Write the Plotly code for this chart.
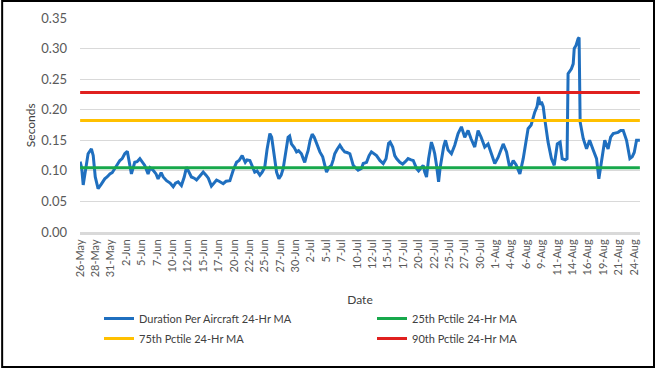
import datetime as dt
import plotly.graph_objects as go

# ---- data ----
start = dt.datetime(2018, 5, 26, 0, 0)

hours = [0, 6, 12, 20, 31, 44, 51, 59, 70, 82, 96, 105, 116, 125, 135, 144, 155, 164, 174, 184,
         191, 200, 213, 222, 233, 242, 252, 265, 273, 285, 296, 304, 316, 324, 337, 351, 363, 372, 382, 395,
         406, 415, 425, 434, 445, 454, 468, 480, 491, 500, 512, 523, 532, 542, 558, 569, 584, 597, 610, 620,
         632, 644, 651, 662, 671, 681, 690, 701, 710, 720, 729, 740, 747, 753, 761, 766, 775, 784, 792, 801,
         811, 817, 824, 835, 844, 852, 863, 870, 876, 883, 889, 897, 905, 913, 922, 928, 935, 946, 954, 961,
         969, 980, 987, 993, 1002, 1013, 1022, 1032, 1041, 1052, 1059, 1065, 1074, 1084, 1097, 1104, 1117, 1127, 1136, 1147,
         1156, 1169, 1182, 1193, 1203, 1209, 1219, 1227, 1234, 1247, 1258, 1268, 1279, 1291, 1299, 1312, 1320, 1330, 1338, 1344,
         1351, 1359, 1370, 1377, 1383, 1390, 1398, 1404, 1409, 1418, 1425, 1435, 1448, 1461, 1474, 1487, 1500, 1513, 1525, 1539,
         1552, 1564, 1578, 1591, 1604, 1617, 1630, 1644, 1650, 1663, 1676, 1689, 1700, 1715, 1728, 1747, 1759, 1773, 1782, 1788,
         1794, 1799, 1806, 1812, 1825, 1838, 1849, 1861, 1872, 1880, 1892, 1899, 1903, 1916, 1923, 1927, 1934, 1942, 1946, 1950,
         1962, 1975, 1987, 2001, 2014, 2023, 2032, 2046, 2059, 2069, 2079, 2098, 2108, 2118, 2131, 2144, 2153, 2161, 2170, 2183]

duration_ma = [0.115, 0.105, 0.077, 0.100, 0.128, 0.136, 0.125, 0.090, 0.071, 0.078, 0.087, 0.090, 0.095, 0.097, 0.104, 0.110, 0.117, 0.120, 0.128, 0.132,
               0.115, 0.095, 0.114, 0.115, 0.120, 0.115, 0.109, 0.095, 0.105, 0.101, 0.095, 0.087, 0.097, 0.090, 0.084, 0.080, 0.074, 0.080, 0.082, 0.076,
               0.090, 0.106, 0.098, 0.090, 0.088, 0.085, 0.092, 0.098, 0.093, 0.088, 0.075, 0.080, 0.085, 0.083, 0.079, 0.083, 0.084, 0.101, 0.114, 0.117,
               0.125, 0.114, 0.118, 0.117, 0.108, 0.098, 0.100, 0.093, 0.098, 0.106, 0.135, 0.161, 0.155, 0.139, 0.115, 0.098, 0.087, 0.093, 0.104, 0.130,
               0.155, 0.157, 0.144, 0.138, 0.131, 0.133, 0.128, 0.120, 0.114, 0.125, 0.133, 0.150, 0.160, 0.155, 0.144, 0.138, 0.131, 0.123, 0.110, 0.098,
               0.105, 0.109, 0.118, 0.128, 0.135, 0.142, 0.136, 0.131, 0.130, 0.128, 0.118, 0.109, 0.105, 0.101, 0.104, 0.112, 0.114, 0.125, 0.131, 0.128,
               0.125, 0.117, 0.112, 0.120, 0.145, 0.147, 0.139, 0.125, 0.120, 0.114, 0.111, 0.115, 0.120, 0.118, 0.117, 0.104, 0.100, 0.105, 0.109, 0.098,
               0.090, 0.120, 0.147, 0.138, 0.128, 0.109, 0.082, 0.105, 0.120, 0.140, 0.150, 0.134, 0.128, 0.142, 0.161, 0.172, 0.155, 0.166, 0.152, 0.139,
               0.166, 0.155, 0.139, 0.144, 0.128, 0.112, 0.122, 0.140, 0.144, 0.131, 0.104, 0.117, 0.110, 0.095, 0.120, 0.169, 0.175, 0.196, 0.205, 0.221,
               0.208, 0.213, 0.205, 0.185, 0.147, 0.120, 0.109, 0.144, 0.147, 0.120, 0.118, 0.120, 0.259, 0.267, 0.275, 0.300, 0.305, 0.316, 0.318, 0.180,
               0.153, 0.136, 0.150, 0.134, 0.120, 0.087, 0.110, 0.150, 0.136, 0.155, 0.161, 0.163, 0.166, 0.166, 0.150, 0.120, 0.123, 0.130, 0.150, 0.150]

pctile_25 = 0.105
pctile_75 = 0.1825
pctile_90 = 0.228

tick_labels = ["26-May", "28-May", "31-May", "2-Jun", "5-Jun", "7-Jun", "10-Jun", "12-Jun", "15-Jun",
               "17-Jun", "20-Jun", "22-Jun", "25-Jun", "27-Jun", "30-Jun", "2-Jul", "5-Jul", "7-Jul",
               "10-Jul", "12-Jul", "15-Jul", "17-Jul", "20-Jul", "22-Jul", "25-Jul", "27-Jul", "30-Jul",
               "1-Aug", "4-Aug", "6-Aug", "9-Aug", "11-Aug", "14-Aug", "16-Aug", "19-Aug", "21-Aug", "24-Aug"]
tick_step_hours = 60

# ---- build ----
x = [start + dt.timedelta(hours=h) for h in hours]
x_ends = [x[0], x[-1]]
tickvals = [start + dt.timedelta(hours=tick_step_hours * i) for i in range(len(tick_labels))]

FONT = "Lato, 'Open Sans', sans-serif"
GREY = "#595959"
LEG_FONT = dict(size=11, color="#404040")

fig = go.Figure()
fig.add_trace(go.Scatter(x=x, y=duration_ma, mode="lines", name="Duration Per Aircraft 24-Hr MA",
                         line=dict(color="#1F6FBF", width=3), legend="legend", legendgroup="a"))
fig.add_trace(go.Scatter(x=x_ends, y=[pctile_25] * 2, mode="lines", name="25th Pctile 24-Hr MA",
                         line=dict(color="#17A84B", width=3), legend="legend2", legendgroup="b"))
fig.add_trace(go.Scatter(x=x_ends, y=[pctile_75] * 2, mode="lines", name="75th Pctile 24-Hr MA",
                         line=dict(color="#FFC000", width=3), legend="legend", legendgroup="c"))
fig.add_trace(go.Scatter(x=x_ends, y=[pctile_90] * 2, mode="lines", name="90th Pctile 24-Hr MA",
                         line=dict(color="#E0201F", width=3), legend="legend2", legendgroup="d"))

leg_common = dict(orientation="v", xref="container", yref="container", xanchor="left", yanchor="top",
                  y=0.20, font=LEG_FONT, tracegroupgap=1, itemwidth=30, bgcolor="rgba(0,0,0,0)")

fig.update_layout(
    width=657, height=380,
    margin=dict(l=80, r=17, t=18, b=148, autoexpand=False),
    paper_bgcolor="white", plot_bgcolor="white",
    font=dict(family=FONT, color=GREY),
    legend=dict(x=(107 - 8) / 657, **leg_common),
    legend2=dict(x=(380 - 8) / 657, **leg_common),
    shapes=[dict(type="rect", xref="paper", yref="paper", x0=-0.139, x1=1.025, y0=-0.631, y1=1.079,
                 line=dict(color="black", width=2), fillcolor="rgba(0,0,0,0)", layer="below")],
    annotations=[dict(text="Seconds", xref="paper", yref="paper", x=-0.089, y=0.5,
                      xanchor="center", yanchor="middle", textangle=-90, showarrow=False,
                      font=dict(size=12, color="#404040"))],
)
fig.update_xaxes(
    range=[start - dt.timedelta(minutes=30), start + dt.timedelta(hours=2183, minutes=30)],
    tickvals=tickvals, ticktext=tick_labels, tickangle=-90, tickfont=dict(size=11, color=GREY),
    showgrid=False, showline=True, linecolor="#D9D9D9", linewidth=3, ticks="", automargin=False,
    title=dict(text="Date", font=dict(size=12, color="#404040"), standoff=20),
)
fig.update_yaxes(
    range=[0, 0.35], dtick=0.05, tickformat=".2f", tickfont=dict(size=13, color=GREY),
    showgrid=True, gridcolor="#D9D9D9", gridwidth=1, zeroline=False, ticklabelstandoff=12,
    automargin=False,
)

fig.write_html("out.html", config={"displayModeBar": False},
               post_script="document.body.style.margin='0';")
